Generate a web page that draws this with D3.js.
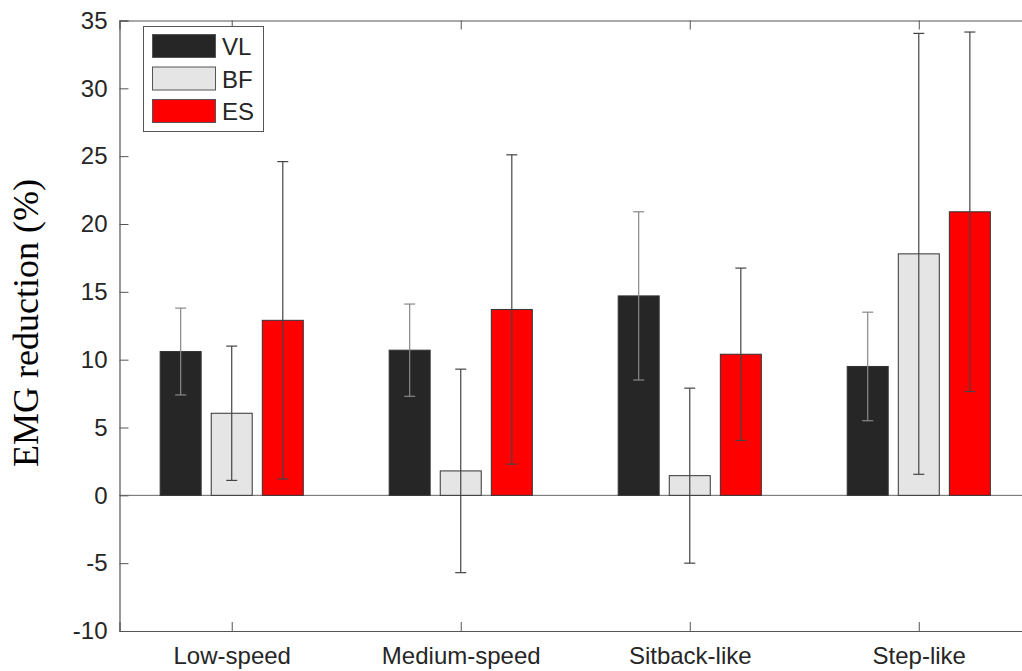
<!DOCTYPE html>
<html>
<head>
<meta charset="utf-8">
<script src="https://cdn.jsdelivr.net/npm/d3@7"></script>
<style>
  body { margin: 0; background: #fff; }
  svg { display: block; }
  text { font-family: "Liberation Sans", Arial, sans-serif; fill: #262626; }
</style>
</head>
<body>
<svg id="chart" width="1022" height="671"></svg>
<script>
// Data
const categories = ['Low-speed', 'Medium-speed', 'Sitback-like', 'Step-like'];
const series = ['VL', 'BF', 'ES'];
const vlMean = [10.6, 10.7, 14.7, 9.5];
const vlSd = [3.2, 3.4, 6.2, 4.0];
const bfMean = [6.05, 1.8, 1.45, 17.8];
const bfSd = [4.95, 7.5, 6.45, 16.25];
const esMean = [12.9, 13.7, 10.4, 20.9];
const esSd = [11.7, 11.4, 6.35, 13.25];
const yTicks = [-10, -5, 0, 5, 10, 15, 20, 25, 30, 35];

const colors = { VL: '#262626', BF: '#e5e5e5', ES: '#ff0000' };
const means = { VL: vlMean, BF: bfMean, ES: esMean };
const sds = { VL: vlSd, BF: bfSd, ES: esSd };

const svg = d3.select('#chart');
const plotLeft = 119.5, plotTop = 20.5, plotBottom = 631, plotRight = 1031;

const x = d3.scaleLinear().domain([0.51, 4.49]).range([plotLeft, plotRight]);
const y = d3.scaleLinear().domain([-10, 35]).range([plotBottom, plotTop]);

const offset = 0.223, barW = 0.179;

// bars
const bars = [];
series.forEach((s, i) => {
    categories.forEach((c, j) => {
        bars.push({ s, pos: j + 1 + (i - 1) * offset, mean: means[s][j], sd: sds[s][j] });
    });
});

const g = svg.append('g');

// zero line
g.append('line')
    .attr('x1', plotLeft).attr('x2', plotRight)
    .attr('y1', y(0)).attr('y2', y(0))
    .attr('stroke', '#666').attr('stroke-width', 1);

g.selectAll('rect.bar')
    .data(bars)
    .enter().append('rect')
    .attr('class', 'bar')
    .attr('x', d => x(d.pos - barW / 2))
    .attr('width', x(barW) - x(0))
    .attr('y', d => y(Math.max(0, d.mean)))
    .attr('height', d => Math.abs(y(d.mean) - y(0)))
    .attr('fill', d => colors[d.s])
    .attr('stroke', '#333')
    .attr('stroke-width', 1);

// error bars
const capW = 5.5;
const err = g.selectAll('g.err').data(bars).enter().append('g').attr('class', 'err')
    .attr('stroke', d => d.s === 'VL' ? '#888' : '#444')
    .attr('stroke-width', 1.2);
err.append('line')
    .attr('x1', d => x(d.pos)).attr('x2', d => x(d.pos))
    .attr('y1', d => y(d.mean - d.sd)).attr('y2', d => y(d.mean + d.sd));
err.append('line')
    .attr('x1', d => x(d.pos) - capW).attr('x2', d => x(d.pos) + capW)
    .attr('y1', d => y(d.mean + d.sd)).attr('y2', d => y(d.mean + d.sd));
err.append('line')
    .attr('x1', d => x(d.pos) - capW).attr('x2', d => x(d.pos) + capW)
    .attr('y1', d => y(d.mean - d.sd)).attr('y2', d => y(d.mean - d.sd));

// axes (box with inward ticks)
const axisColor = '#555';
const tickLen = 9;

const yAxisL = g.append('g').attr('transform', `translate(${plotLeft},0)`)
    .call(d3.axisLeft(y).tickValues(yTicks).tickSize(-tickLen).tickPadding(12).tickFormat(d => String(d)));
const yAxisR = g.append('g').attr('transform', `translate(${plotRight},0)`)
    .call(d3.axisRight(y).tickValues(yTicks).tickSize(-tickLen).tickFormat(''));
const xAxisB = g.append('g').attr('transform', `translate(0,${plotBottom})`)
    .call(d3.axisBottom(x).tickValues([1, 2, 3, 4]).tickSize(-tickLen).tickPadding(16)
        .tickFormat((d, i) => categories[i]));
const xAxisT = g.append('g').attr('transform', `translate(0,${plotTop})`)
    .call(d3.axisTop(x).tickValues([1, 2, 3, 4]).tickSize(-tickLen).tickFormat(''));

[yAxisL, yAxisR, xAxisB, xAxisT].forEach(a => {
    a.select('.domain').attr('stroke', axisColor).attr('stroke-width', 1.2);
    a.selectAll('.tick line').attr('stroke', axisColor).attr('stroke-width', 1);
    a.selectAll('.tick text').attr('font-size', 24).style('fill', '#262626');
});
xAxisB.selectAll('.tick text').attr('dy', '0.71em');

// y label
svg.append('text')
    .attr('transform', 'translate(38,323) rotate(-90)')
    .attr('text-anchor', 'middle')
    .style('font-family', '"Liberation Serif", "Times New Roman", serif')
    .attr('font-size', 36)
    .style('fill', '#000')
    .text('EMG reduction (%)');

// legend
const lg = svg.append('g');
lg.append('rect')
    .attr('x', 143.5).attr('y', 26.5).attr('width', 120).attr('height', 105)
    .attr('fill', '#fff').attr('stroke', '#555').attr('stroke-width', 1);
series.forEach((s, i) => {
    const yy = 34.5 + i * 32.5;
    lg.append('rect')
        .attr('x', 152.5).attr('y', yy).attr('width', 63).attr('height', 23)
        .attr('fill', colors[s]).attr('stroke', '#555').attr('stroke-width', 1);
    lg.append('text')
        .attr('x', 222).attr('y', yy + 12).attr('dy', '0.36em')
        .attr('font-size', 24)
        .text(s);
});
</script>
</body>
</html>
